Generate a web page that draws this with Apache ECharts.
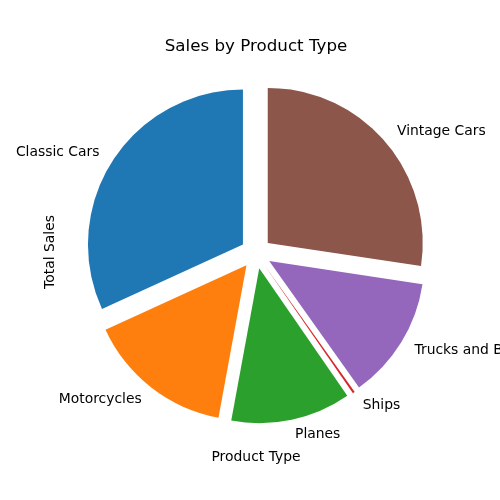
<!DOCTYPE html>
<html>
<head>
<meta charset="utf-8">
<script src="https://cdn.jsdelivr.net/npm/echarts@6/dist/echarts.min.js"></script>
<style>
  html, body { margin: 0; padding: 0; background: #fff; }
  #chart { width: 500px; height: 500px; }
</style>
</head>
<body>
<div id="chart"></div>
<script>
// product types, counter-clockwise from 12 o'clock
const productTypes = ['Classic Cars', 'Motorcycles', 'Planes', 'Ships', 'Trucks and Buses', 'Vintage Cars']
// total sales (relative)
const totalSales = [114.5, 55, 45, 0.8, 46, 98.5]
const sliceColors = ['#1f77b4', '#ff7f0e', '#2ca02c', '#d62728', '#9467bd', '#8c564b']

const chart = echarts.init(document.getElementById('chart'), null, { renderer: 'canvas' })
const font = 'DejaVu Sans'
const radius = 155

const option = {
  animation: false,
  title: {
    text: 'Sales by Product Type',
    left: 251,
    top: 33,
    textAlign: 'center',
    textStyle: { fontFamily: font, fontSize: 16.7, fontWeight: 'normal', color: '#000' }
  },
  graphic: [
    {
      type: 'text', x: 50, y: 252, rotation: Math.PI / 2,
      style: { text: 'Total Sales', font: '13.9px "DejaVu Sans"', fill: '#000', align: 'center', verticalAlign: 'middle' }
    },
    {
      type: 'text', x: 256, y: 457,
      style: { text: 'Product Type', font: '13.9px "DejaVu Sans"', fill: '#000', align: 'center', verticalAlign: 'middle' }
    }
  ],
  series: [{
    type: 'pie',
    center: [256, 253],
    radius: [0, radius],
    startAngle: 90,
    clockwise: false,
    avoidLabelOverlap: false,
    selectedMode: 'multiple',
    selectedOffset: radius * 0.1,
    itemStyle: { borderWidth: 0 },
    label: {
      position: 'outside',
      fontFamily: font,
      fontSize: 13.9,
      color: '#000',
      distanceToLabelLine: 0,
      width: 200,
      overflow: 'none'
    },
    labelLine: { show: false, length: radius * 0.1, length2: 0 },
    emphasis: { disabled: true },
    data: productTypes.map((name, i) => ({
      name,
      value: totalSales[i],
      selected: true,
      itemStyle: { color: sliceColors[i] }
    }))
  }]
}
chart.setOption(option)
</script>
</body>
</html>
